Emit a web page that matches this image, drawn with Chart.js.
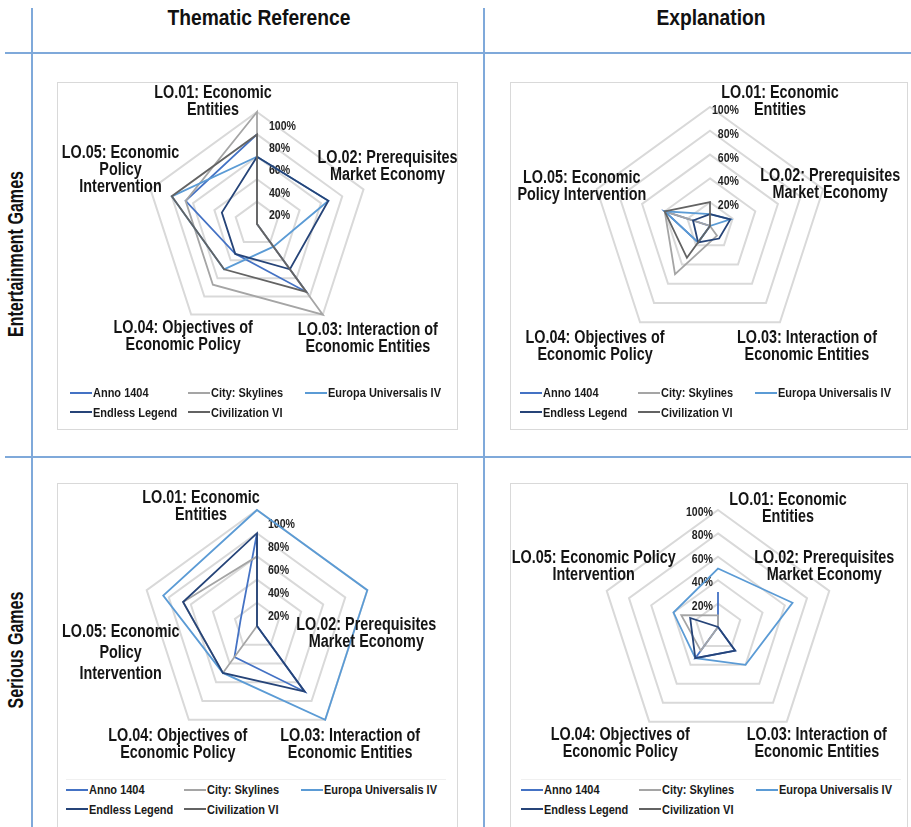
<!DOCTYPE html>
<html>
<head>
<meta charset="utf-8">
<script src="https://cdn.jsdelivr.net/npm/chart.js@4.4.0/dist/chart.umd.min.js"></script>
<style>
  body { margin: 0; width: 911px; height: 827px; overflow: hidden; background: #fff; position: relative;
         font-family: "Liberation Sans", Arial, sans-serif; color: #111; }
  .rule { position: absolute; background: #7fa9da; }
  .head, .side { position: absolute; font-weight: bold; font-size: 22px; white-space: nowrap; line-height: 1; }
  .panel { position: absolute; }
  .panel canvas { position: absolute; left: 0; top: 0; }
  .frame { position: absolute; left: 0; top: 0; right: 0; bottom: 0; border: 1px solid #d9d9d9; box-sizing: border-box; pointer-events: none; }
  .legend { position: absolute; display: grid; grid-template-columns: 117.6px 117.6px 130px; grid-auto-rows: 19.5px; }
  .legend.boxed { background: #fff; border-top: 1px solid #f0f0f0; }
  .item { display: flex; align-items: center; font-weight: bold; font-size: 13px; white-space: nowrap; color: #1a1a1a; }
  .item span.ln { display: inline-block; width: 22px; height: 2px; margin-right: 1px; flex: none; }
  .item span.tx { display: inline-block; transform-origin: 0 50%; }
</style>
</head>
<body>

<div class="rule" style="left:31px; top:8px; width:2px; height:819px;"></div>
<div class="rule" style="left:483px; top:8px; width:2px; height:819px;"></div>
<div class="rule" style="left:5px; top:52px; width:906px; height:2px;"></div>
<div class="rule" style="left:5px; top:456px; width:906px; height:2px;"></div>

<div class="head" id="h1">Thematic Reference</div>
<div class="head" id="h2">Explanation</div>
<div class="side" id="s1">Entertainment Games</div>
<div class="side" id="s2">Serious Games</div>

<div class="panel" id="p1"></div>
<div class="panel" id="p2"></div>
<div class="panel" id="p3"></div>
<div class="panel" id="p4"></div>

<script>
var FONT = '"Liberation Sans", Arial, sans-serif';

var categories = ['LO.01', 'LO.02', 'LO.03', 'LO.04', 'LO.05'];
var seriesNames = ['Anno 1404', 'City: Skylines', 'Europa Universalis IV', 'Endless Legend', 'Civilization VI'];
var tickValues = [0, 20, 40, 60, 80, 100];

// axis titles (line breaks differ per panel)
var axisTitlesA = [['LO.01: Economic', 'Entities'], ['LO.02: Prerequisites', 'Market Economy'],
  ['LO.03: Interaction of', 'Economic Entities'], ['LO.04: Objectives of', 'Economic Policy'],
  ['LO.05: Economic', 'Policy', 'Intervention']];
var axisTitlesB = [['LO.01: Economic', 'Entities'], ['LO.02: Prerequisites', 'Market Economy'],
  ['LO.03: Interaction of', 'Economic Entities'], ['LO.04: Objectives of', 'Economic Policy'],
  ['LO.05: Economic', 'Policy Intervention']];
var axisTitlesC = [['LO.01: Economic', 'Entities'], ['LO.02: Prerequisites', 'Market Economy'],
  ['LO.03: Interaction of', 'Economic Entities'], ['LO.04: Objectives of', 'Economic Policy'],
  ['LO.05: Economic Policy', 'Intervention']];

// Entertainment games - thematic reference (%)
var annoEntRef    = [80, 0, 75, 33, 67];
var cityEntRef    = [100, 0, 100, 67, 67];
var europaEntRef  = [60, 67, 25, 50, 80];
var endlessEntRef = [60, 67, 50, 33, 33];
var civEntRef     = [80, 0, 75, 50, 80];

// Entertainment games - explanation (%)
var annoEntExp    = [0, 0, 0, 17, 40];
var cityEntExp    = [0, 0, 10, 50, 40];
var europaEntExp  = [10, 18, 0, 17, 40];
var endlessEntExp = [10, 18, 13, 17, 15];
var civEntExp     = [20, 0, 0, 33, 40];

// Serious games - thematic reference (%)
var annoSerRef    = [80, 0, 70, 33, 15];
var citySerRef    = [60, 0, 0, 50, 67];
var europaSerRef  = [100, 100, 100, 50, 85];
var endlessSerRef = [80, 0, 70, 50, 67];
var civSerRef     = [0, 0, 0, 0, 0];

// Serious games - explanation (%)
var annoSerExp    = [30, 0, 25, 33, 0];
var citySerExp    = [10, 0, 0, 25, 33];
var europaSerExp  = [50, 67, 40, 33, 40];
var endlessSerExp = [0, 0, 25, 33, 25];
var civSerExp     = [0, 0, 0, 0, 0];

var seriesColors = ['#4472C4', '#A5A5A5', '#5B9BD5', '#264478', '#636363'];

// no condensed face installed: squeeze a regular bold face to the widths in the picture
var meas = document.createElement('canvas').getContext('2d');
function squeeze(text, px, target) {
  meas.font = 'bold ' + px + 'px ' + FONT;
  return target / meas.measureText(text).width;
}
var sxTitle = squeeze('LO.02: Prerequisites', 18, 140);
var sxTick = squeeze('100%', 13, 27);
var sxLegend = squeeze('Europa Universalis IV', 13, 113);
var sxHead = squeeze('Thematic Reference', 22, 183);
var sxSide = squeeze('Entertainment Games', 22, 166);

function place(id, x, y, rot, sx) {
  var el = document.getElementById(id);
  el.style.left = x + 'px'; el.style.top = y + 'px';
  el.style.transform = 'translate(-50%, -50%)' + (rot ? ' rotate(-90deg)' : '') + ' scaleX(' + sx + ')';
}
place('h1', 259, 18, false, sxHead);
place('h2', 711, 18, false, sxHead);
place('s1', 16, 254, true, sxSide);
place('s2', 16, 650, true, sxSide);

function squeezedText(ctx, txt, x, y, sx) {
  ctx.save();
  ctx.translate(x, y);
  ctx.scale(sx, 1);
  ctx.fillText(txt, 0, 0);
  ctx.restore();
}

var panels = [
  { id: 'p1', box: [57, 82, 401, 348], cx: 257, cy: 224, r: 112, titles: axisTitlesA,
    data: [annoEntRef, cityEntRef, europaEntRef, endlessEntRef, civEntRef],
    offsets: [[-44, -10], [24, -23], [45, 24], [-8, 22], [-30, -19]], gaps: [17, 17, 17, 17, 17],
    tickAlign: 'left', tickDx: 12, tickDy: 14, legend: [13, 301], boxed: false },
  { id: 'p2', box: [510, 82, 398, 348], cx: 710, cy: 226, r: 119, titles: axisTitlesB,
    data: [annoEntExp, cityEntExp, europaEntExp, endlessEntExp, civEntExp],
    offsets: [[70, -5], [7, -5], [27, 24], [-45, 24], [-15, -3]], gaps: [17, 17, 17, 17, 17],
    tickAlign: 'right', tickDx: 29, tickDy: 3.5, legend: [10, 301], boxed: false },
  { id: 'p3', box: [57, 483, 401, 350], cx: 257, cy: 626, r: 116, titles: axisTitlesA,
    data: [annoSerRef, citySerRef, europaSerRef, endlessSerRef, civSerRef],
    offsets: [[-56, -3], [-1, 43], [25, 25], [-11, 25], [-26, 63]], gaps: [17, 17, 17, 17, 21],
    tickAlign: 'left', tickDx: 11, tickDy: 14, legend: [9, 296], boxed: true },
  { id: 'p4', box: [510, 483, 398, 350], cx: 718, cy: 627, r: 117, titles: axisTitlesC,
    data: [annoSerExp, citySerExp, europaSerExp, endlessSerExp, civSerExp],
    offsets: [[70, -1], [-5, -24], [30, 22], [-29, 22], [-13, -24]], gaps: [17, 17, 17, 17, 17],
    tickAlign: 'right', tickDx: -5, tickDy: 2.5, legend: [11, 296], boxed: true }
];

// tick labels under the lines, axis titles on top, both placed from the r scale
var radarText = {
  id: 'radarText',
  beforeDatasetsDraw: function (chart, args, o) {
    var s = chart.scales.r, ctx = chart.ctx;
    ctx.save();
    ctx.font = 'bold 13px ' + FONT;
    ctx.fillStyle = '#1f1f1f';
    ctx.textAlign = o.tickAlign;
    ctx.textBaseline = 'middle';
    s.ticks.forEach(function (t) {
      if (t.value === 0) return;
      squeezedText(ctx, t.label, s.xCenter + o.tickDx, s.yCenter - s.getDistanceFromCenterForValue(t.value) + o.tickDy, sxTick);
    });
    ctx.restore();
  },
  afterDatasetsDraw: function (chart, args, o) {
    var s = chart.scales.r, ctx = chart.ctx;
    ctx.save();
    ctx.font = 'bold 18px ' + FONT;
    ctx.fillStyle = '#141414';
    ctx.textAlign = 'center';
    ctx.textBaseline = 'middle';
    o.titles.forEach(function (lines, i) {
      var p = s.getPointPosition(i, s.drawingArea);
      var off = o.offsets[i], gap = o.gaps[i];
      lines.forEach(function (txt, k) {
        squeezedText(ctx, txt, p.x + off[0], p.y + off[1] + (k - (lines.length - 1) / 2) * gap, sxTitle);
      });
    });
    ctx.restore();
  }
};

panels.forEach(function (pn) {
  var wrap = document.getElementById(pn.id);
  var bx = pn.box[0], by = pn.box[1], bw = pn.box[2], bh = pn.box[3];
  wrap.style.left = bx + 'px'; wrap.style.top = by + 'px';
  wrap.style.width = bw + 'px'; wrap.style.height = bh + 'px';

  var cv = document.createElement('canvas');
  cv.width = bw; cv.height = bh;
  wrap.appendChild(cv);
  var fr = document.createElement('div');
  fr.className = 'frame';
  wrap.appendChild(fr);

  var relX = pn.cx - bx, relY = pn.cy - by;

  new Chart(cv, {
    type: 'radar',
    data: {
      labels: categories,
      datasets: seriesNames.map(function (name, i) {
        return {
          label: name,
          data: pn.data[i],
          borderColor: seriesColors[i],
          backgroundColor: seriesColors[i],
          borderWidth: 1.8,
          fill: false,
          pointRadius: 0,
          order: seriesNames.length - i
        };
      })
    },
    options: {
      responsive: false,
      animation: false,
      layout: { padding: { left: relX - pn.r, top: relY - pn.r, right: bw - relX - pn.r, bottom: bh - relY - pn.r } },
      plugins: {
        legend: { display: false },
        tooltip: { enabled: false },
        radarText: { titles: pn.titles, offsets: pn.offsets, gaps: pn.gaps,
                     tickAlign: pn.tickAlign, tickDx: pn.tickDx, tickDy: pn.tickDy }
      },
      scales: {
        r: {
          min: tickValues[0],
          max: tickValues[tickValues.length - 1],
          ticks: { stepSize: 20, display: false, callback: function (v) { return v + '%'; } },
          grid: { color: '#d9d9d9', lineWidth: 2 },
          angleLines: { display: false },
          pointLabels: { display: false }
        }
      }
    },
    plugins: [radarText]
  });

  var lg = document.createElement('div');
  lg.className = 'legend' + (pn.boxed ? ' boxed' : '');
  lg.style.left = pn.legend[0] + 'px';
  lg.style.top = pn.legend[1] + 'px';
  if (pn.boxed) { lg.style.width = '380px'; }
  seriesNames.forEach(function (name, i) {
    var it = document.createElement('div');
    it.className = 'item';
    it.innerHTML = '<span class="ln" style="background:' + seriesColors[i] + '"></span>' +
      '<span class="tx" style="transform:scaleX(' + sxLegend + ')">' + name + '</span>';
    lg.appendChild(it);
  });
  wrap.appendChild(lg);
});
</script>
</body>
</html>
